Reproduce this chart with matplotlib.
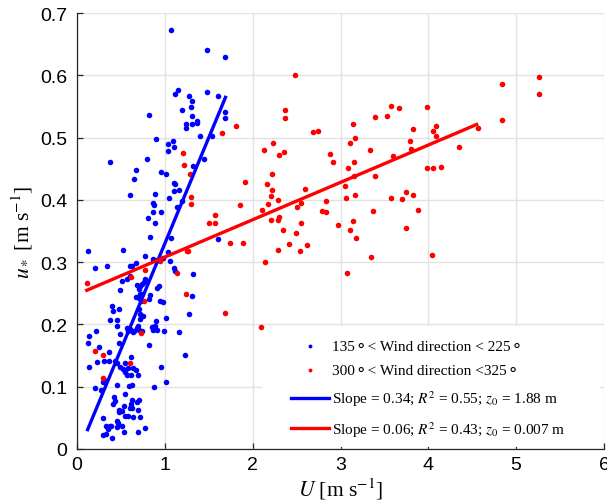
import numpy as np
import matplotlib
matplotlib.use("Agg")
import matplotlib.pyplot as plt
from matplotlib.patches import Rectangle

plt.rcParams['font.family'] = ['Liberation Sans', 'DejaVu Sans']
plt.rcParams['mathtext.fontset'] = 'stix'

### Friction velocity vs wind speed, two wind-direction sectors
# 135-225 deg sector
u_blue = [1.07, 1.48, 1.68, 1.15, 1.12, 1.28, 1.31, 1.48, 1.60, 1.30, 1.19, 0.82, 1.31, 1.24,
          1.24, 1.31, 1.36, 1.37, 1.69, 1.68, 0.90, 1.09, 1.04, 1.10, 1.04, 1.40, 1.54, 0.38,
          0.80, 1.44, 0.67, 0.96, 1.01, 0.65, 1.32, 1.10, 1.10, 1.16, 0.60, 0.89, 1.05, 0.87,
          0.88, 1.14, 1.19, 0.87, 0.96, 1.12,
          0.12, 0.20, 0.34, 0.52, 0.60, 0.62, 0.67, 0.81, 0.89, 0.83, 0.77, 0.51, 0.57, 0.60,
          0.49, 0.68, 0.70, 0.71, 0.72, 0.74, 0.76, 0.77, 0.67, 0.74, 0.40, 0.48, 0.41, 0.37,
          0.45, 0.46, 0.94, 0.98, 0.90, 0.89, 0.86, 1.01, 0.91, 0.98, 1.10, 0.99, 0.22, 0.57,
          0.60, 0.68, 1.07, 1.04, 0.87, 1.06, 1.12, 1.32, 1.61, 0.93, 0.91, 1.31, 1.28, 1.16,
          0.85, 0.83, 0.82, 0.71, 0.72, 0.75, 0.72, 0.69, 0.65, 0.74, 0.72, 0.71, 0.73,
          0.14, 0.12, 0.25, 0.49, 0.48, 0.58, 0.64, 0.71, 0.87, 0.91, 0.82, 0.23, 0.31, 0.14,
          0.43, 0.45, 0.36, 0.615, 0.55, 0.49, 0.52, 0.55, 0.58, 0.64, 0.615, 0.57, 0.67, 0.69,
          0.96, 1.01, 0.88, 0.30, 0.20, 0.27, 0.45, 0.59, 0.62, 0.55, 0.42, 0.43, 0.41, 0.62,
          0.615, 0.60, 0.62, 0.48, 0.53, 0.51, 0.48, 0.54, 0.58, 0.64, 0.72, 0.29, 0.33, 0.35,
          0.37, 0.39, 0.46, 0.47, 0.51, 0.45, 0.30, 0.33, 0.40, 0.53, 0.69, 0.77, 1.23, 0.36,
          0.68, 0.70, 0.69, 0.31]
ustar_blue = [0.673, 0.641, 0.630, 0.577, 0.570, 0.567, 0.558, 0.573, 0.567, 0.549, 0.545, 0.536,
              0.535, 0.521, 0.515, 0.522, 0.523, 0.526, 0.541, 0.531, 0.498, 0.494, 0.489, 0.485,
              0.478, 0.502, 0.502, 0.461, 0.466, 0.465, 0.448, 0.445, 0.441, 0.434, 0.454, 0.427,
              0.414, 0.416, 0.407, 0.409, 0.403, 0.395, 0.391, 0.389, 0.398, 0.380, 0.381, 0.425,
              0.317, 0.291, 0.294, 0.320, 0.293, 0.294, 0.299, 0.371, 0.363, 0.341, 0.310, 0.270,
              0.273, 0.277, 0.255, 0.263, 0.260, 0.257, 0.262, 0.265, 0.268, 0.273, 0.244, 0.249,
              0.229, 0.225, 0.222, 0.207, 0.207, 0.198, 0.238, 0.236, 0.205, 0.198, 0.196, 0.210,
              0.304, 0.306, 0.290, 0.189, 0.190, 0.194, 0.192, 0.194, 0.339, 0.316, 0.305, 0.301,
              0.285, 0.281, 0.337, 0.261, 0.258, 0.245, 0.216, 0.188, 0.195, 0.247, 0.241, 0.225,
              0.217, 0.214, 0.209, 0.197, 0.190, 0.189, 0.248, 0.243, 0.238,
              0.181, 0.170, 0.163, 0.185, 0.170, 0.190, 0.188, 0.191, 0.191, 0.191, 0.167, 0.140,
              0.141, 0.132, 0.141, 0.138, 0.141, 0.148, 0.138, 0.132, 0.128, 0.124, 0.130, 0.130,
              0.119, 0.118, 0.126, 0.119, 0.131, 0.107, 0.099, 0.107, 0.098, 0.095, 0.102, 0.101,
              0.103, 0.088, 0.083, 0.077, 0.072, 0.078, 0.072, 0.065, 0.065, 0.063, 0.069, 0.060,
              0.059, 0.053, 0.053, 0.051, 0.051, 0.049, 0.037, 0.032, 0.037, 0.036, 0.045, 0.041,
              0.037, 0.035, 0.022, 0.024, 0.017, 0.027, 0.027, 0.033, 0.150, 0.156, 0.075, 0.078,
              0.063, 0.110]

# 300-325 deg sector
u_red = [0.11, 0.20, 0.30, 0.29, 0.60, 0.73, 0.76, 0.77, 0.61, 0.94, 1.14, 1.24, 1.25, 1.26,
         1.30, 1.30, 1.29, 1.21, 1.22, 1.57, 1.57, 1.50, 1.68, 1.74, 1.89, 1.85, 1.91, 1.65,
         1.81, 2.48, 2.37, 2.37, 2.69, 2.74, 2.23, 2.13, 2.30, 2.36, 2.22, 2.16, 2.22, 2.21,
         2.29, 2.17, 2.11, 2.21, 2.29, 2.30, 2.34, 2.29, 2.14, 2.10, 2.41, 2.49, 2.54, 2.55,
         2.62, 2.51, 2.55, 2.60, 2.79, 2.84, 2.83, 2.88, 2.91, 2.97, 3.07, 3.08, 3.05, 3.06,
         3.15, 3.16, 3.15, 3.11, 3.16, 3.14, 3.14, 3.11, 3.18, 3.34, 3.39, 3.37, 3.35, 3.39,
         3.53, 3.58, 3.67, 3.60, 3.58, 3.98, 3.83, 4.05, 4.09, 4.09, 3.79, 3.80, 4.35, 4.56,
         3.98, 4.05, 4.14, 3.70, 3.75, 3.83, 3.88, 3.74, 4.04, 4.84, 4.84, 5.26, 5.26]
ustar_red = [0.266, 0.157, 0.151, 0.114, 0.138, 0.186, 0.238, 0.287, 0.276, 0.302, 0.282, 0.249,
             0.318, 0.317, 0.404, 0.393, 0.441, 0.475, 0.456, 0.376, 0.362, 0.363, 0.218, 0.330,
             0.330, 0.392, 0.428, 0.507, 0.518, 0.601, 0.544, 0.531, 0.509, 0.511, 0.491, 0.480,
             0.472, 0.477, 0.441, 0.425, 0.416, 0.406, 0.400, 0.394, 0.384, 0.367, 0.368, 0.372,
             0.352, 0.319, 0.300, 0.196, 0.329, 0.346, 0.317, 0.362, 0.328, 0.388, 0.395, 0.417,
             0.382, 0.380, 0.398, 0.474, 0.460, 0.360, 0.283, 0.451, 0.422, 0.403, 0.438, 0.407,
             0.461, 0.491, 0.499, 0.522, 0.366, 0.352, 0.338, 0.480, 0.438, 0.382, 0.308, 0.533,
             0.535, 0.550, 0.548, 0.471, 0.403, 0.549, 0.513, 0.511, 0.518, 0.502, 0.494, 0.481,
             0.485, 0.516, 0.451, 0.451, 0.453, 0.401, 0.413, 0.407, 0.384, 0.355, 0.311, 0.586,
             0.529, 0.597, 0.570]

# linear fits (slope, intercept, x range)
fit_blue = (0.34, -0.010, 0.12, 1.69)
fit_red = (0.06, 0.248, 0.11, 4.55)

labels = ['135\u26ac< Wind direction < 225\u26ac',
          '300\u26ac< Wind direction <325\u26ac',
          'Slope = 0.34; $R^2$ = 0.55; $z_0$ = 1.88 m',
          'Slope = 0.06; $R^2$ = 0.43; $z_0$ = 0.007 m']

fig = plt.figure(figsize=(6.07, 5.02), dpi=100)
ax = fig.add_axes([0.127, 0.104, 0.868, 0.868])

s1 = ax.scatter(u_blue, ustar_blue, s=16, color='blue', linewidths=0, zorder=3)
s2 = ax.scatter(u_red, ustar_red, s=16, color='red', linewidths=0, zorder=3)

xb = np.array(fit_blue[2:])
xr = np.array(fit_red[2:])
l1, = ax.plot(xb, fit_blue[0] * xb + fit_blue[1], color='blue', lw=2.4, zorder=4)
l2, = ax.plot(xr, fit_red[0] * xr + fit_red[1], color='red', lw=2.4, zorder=4)

ax.set_xlim(0, 6)
ax.set_ylim(0, 0.7)
ax.set_xticks(np.arange(0, 7, 1))
ax.set_yticks(np.arange(0, 0.71, 0.1))
ax.set_yticklabels(['0', '0.1', '0.2', '0.3', '0.4', '0.5', '0.6', '0.7'])

ax.grid(True, color='#e2e2e2', linewidth=1.0)
ax.set_axisbelow(True)
for side in ['top', 'right']:
    ax.spines[side].set_visible(False)
for side in ['left', 'bottom']:
    ax.spines[side].set_color('#262626')
    ax.spines[side].set_linewidth(0.9)
ax.tick_params(direction='in', length=4, width=0.9, color='#262626',
               labelsize=14, labelcolor='black')
ax.tick_params(axis='y', pad=7)
ax.tick_params(axis='x', pad=5)

serif = ['Liberation Serif', 'DejaVu Sans']
ax.set_xlabel('$U$ [m s$^{-1}$]', fontsize=15.5, family=serif, labelpad=2)
ax.set_ylabel('$u_*$ [m s$^{-1}$]', fontsize=15.5, family=serif, labelpad=4)

# white patch behind the legend hides the grid there
ax.add_patch(Rectangle((0.351, 0.005), 0.641, 0.277, transform=ax.transAxes,
                       facecolor='white', edgecolor='none', zorder=2))
leg = ax.legend([s1, s2, l1, l2], labels, loc='upper left',
                bbox_to_anchor=(0.406, 0.252), frameon=False,
                prop={'family': serif, 'size': 11}, handlelength=2.5,
                handletextpad=0.2, labelspacing=0.72, borderpad=0,
                borderaxespad=0, markerscale=0.7)
leg.set_zorder(5)

plt.savefig('out.png', dpi=100)
